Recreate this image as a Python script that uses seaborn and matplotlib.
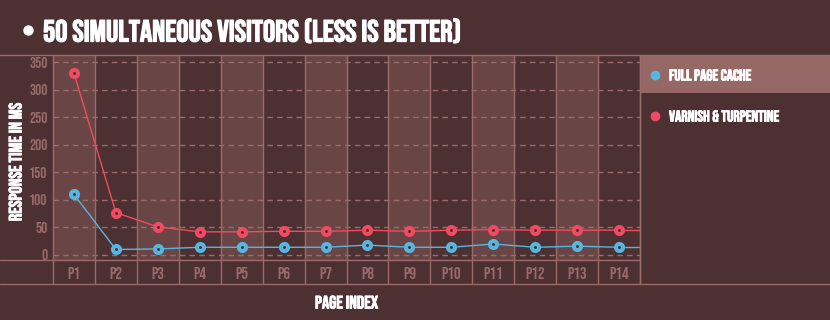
import matplotlib
matplotlib.use("Agg")
import matplotlib.pyplot as plt
from matplotlib.patches import Rectangle
from matplotlib.lines import Line2D
import matplotlib.patheffects as pe
import seaborn as sns
import pandas as pd

pages = ["P1", "P2", "P3", "P4", "P5", "P6", "P7", "P8", "P9", "P10", "P11", "P12", "P13", "P14"]
full_page_cache = [110, 10, 11, 14, 14, 14, 14, 18, 14, 14, 20, 14, 16, 14]
varnish = [330, 77, 51, 42, 42, 43, 43, 45, 43, 45, 46, 45, 45, 45]
series_names = ["FULL PAGE CACHE", "VARNISH & TURPENTINE"]
y_ticks = [0, 50, 100, 150, 200, 250, 300, 350]

BG = "#4d3032"
LIGHT = "#694645"
LINE = "#9a6b6a"
HILITE = "#956866"
BLUE = "#57b6e0"
RED = "#f14a62"

sns.set_theme(style="dark")
plt.rcParams["font.family"] = ["Bebas Neue", "DejaVu Sans"]

W, H = 830, 320
fig = plt.figure(figsize=(W / 100, H / 100), dpi=100, facecolor=BG)

x0, x1, ytop, ybot, yband = 53, 640, 55, 260, 284
ax = fig.add_axes([x0 / W, 1 - ybot / H, (x1 - x0) / W, (ybot - ytop) / H])
ax.set_facecolor(BG)

n = len(pages)
idx = list(range(n))
ax.set_xlim(-0.5, n - 0.5)
ax.set_ylim(-9.1, 363.2)

# alternating column shading
for i in idx:
    if i % 2 == 0:
        ax.axvspan(i - 0.5, i + 0.5, color=LIGHT, lw=0, zorder=0)
# column separators extending into tick band
band_frac = (yband - ybot) / (ybot - ytop)
for i in idx + [n]:
    ax.axvline(i - 0.5, ymin=-band_frac, ymax=1, color=LINE, lw=1, clip_on=False, zorder=1)
# dashed horizontal grid
for v in y_ticks:
    ax.axhline(v, color=LINE, lw=1, ls=(0, (4, 3)), zorder=1)

df = pd.DataFrame({
    "x": idx * 2,
    "value": full_page_cache + varnish,
    "series": [series_names[0]] * n + [series_names[1]] * n,
})
palette = {series_names[0]: BLUE, series_names[1]: RED}
sns.lineplot(data=df, x="x", y="value", hue="series", palette=palette, ax=ax,
             legend=False, lw=1, marker="o", markersize=5.1, markeredgewidth=2.9,
             zorder=3)
for vals, c in [(full_page_cache, BLUE), (varnish, RED)]:
    ax.plot([n - 1, n - 0.5], [vals[-1], vals[-1]], color=c, lw=1, zorder=2)
for line in ax.lines:
    if line.get_marker() == "o":
        line.set_markeredgecolor(line.get_color())
        line.set_markerfacecolor(BG)

for s in ax.spines.values():
    s.set_visible(False)
ax.set_xticks(idx)
ax.set_xticklabels(pages)
ax.set_yticks(y_ticks)
ax.tick_params(axis="x", length=0, pad=5, labelsize=12, labelcolor=LINE)
ax.tick_params(axis="y", length=3, width=1, color=LINE, direction="in", pad=4,
               labelsize=11, labelcolor=LINE)
ax.set_xlabel("")
ax.set_ylabel("")
ax.grid(False)

# frame lines
def hline(y, xa, xb):
    fig.add_artist(Line2D([xa / W, xb / W], [1 - y / H, 1 - y / H], color=LINE, lw=1))
def vline(x, ya, yb):
    fig.add_artist(Line2D([x / W, x / W], [1 - ya / H, 1 - yb / H], color=LINE, lw=1))

hline(ytop, 0, W)
hline(ybot, 0, x1)
hline(yband, 0, W)
vline(x1, ytop, yband)

bold = [pe.withStroke(linewidth=0.6, foreground="white")]

# legend panel
fig.add_artist(Rectangle(((x1 + 0.5) / W, 1 - 93 / H), (W - x1) / W, (93 - ytop - 0.5) / H,
                         transform=fig.transFigure, facecolor=HILITE, edgecolor="none", zorder=0))
for yy, c, name in [(75, BLUE, series_names[0]), (116, RED, series_names[1])]:
    fig.add_artist(Line2D([655 / W], [1 - yy / H], marker="o", markersize=6, color=c, lw=0))
    fig.text(669 / W, 1 - yy / H, name, color="white", fontsize=11.3,
             va="center", ha="left", path_effects=bold)

# titles
fig.add_artist(Line2D([27.5 / W], [1 - 30 / H], marker="o", markersize=6.5, color="white", lw=0))
fig.text(43 / W, 1 - 31 / H, "50 SIMULTANEOUS VISITORS (LESS IS BETTER)", color="white",
         fontsize=22, va="center", ha="left",
         path_effects=[pe.withStroke(linewidth=0.9, foreground="white")])
fig.text(15 / W, 1 - 162 / H, "RESPONSE TIME IN MS", color="white", fontsize=13,
         rotation=90, va="center", ha="center", path_effects=bold)
fig.text((x0 + x1) / 2 / W, 1 - 302 / H, "PAGE INDEX", color="white", fontsize=13,
         va="center", ha="center", path_effects=bold)

fig.savefig("out.png", dpi=100, facecolor=BG)
